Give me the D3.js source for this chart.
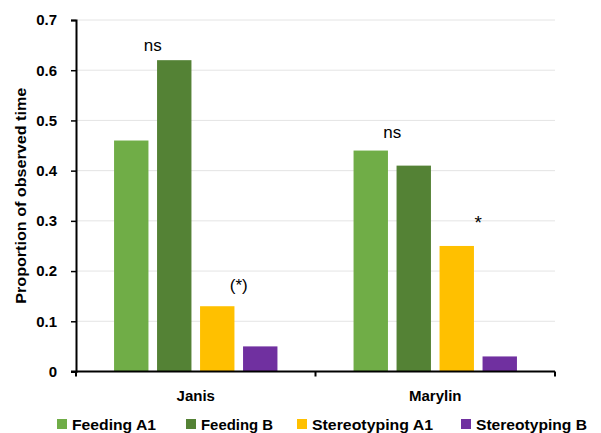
<!DOCTYPE html>
<html><head><meta charset="utf-8">
<script src="https://cdn.jsdelivr.net/npm/d3@7"></script>
<style>body{margin:0;background:#fff}svg{display:block}</style>
</head><body>
<svg id="c" width="601" height="433"></svg>
<script>
const categories = ["Janis", "Marylin"];
const seriesNames = ["Feeding A1", "Feeding B", "Stereotyping A1", "Stereotyping B"];
const seriesColors = ["#70AD47", "#548235", "#FFC000", "#7030A0"];
const janisValues = [0.46, 0.62, 0.13, 0.05];
const marylinValues = [0.44, 0.41, 0.25, 0.03];
const yTicks = [0, 0.1, 0.2, 0.3, 0.4, 0.5, 0.6, 0.7];
// significance labels: placed over a pair of bars, at a level in data units
const annotations = [
  {cat: "Janis", from: "Feeding A1", to: "Feeding B", level: 0.638, text: "ns"},
  {cat: "Marylin", from: "Feeding A1", to: "Feeding B", level: 0.466, text: "ns"},
  {cat: "Janis", from: "Stereotyping A1", to: "Stereotyping B", level: 0.16, text: "(*)"},
  {cat: "Marylin", from: "Stereotyping A1", to: "Stereotyping B", level: 0.284, text: "*"}
];
const valuesByCat = {Janis: janisValues, Marylin: marylinValues};

(function(){
const svg = d3.select("#c");
const font = "'Liberation Sans', Arial, sans-serif";
const pLeft = 76, pRight = 555, pTop = 20, pBottom = 371.5;

const x0 = d3.scaleBand().domain(categories).range([pLeft, pRight]).padding(0);
const x1 = d3.scaleBand().domain(seriesNames).range([0, x0.bandwidth()]).paddingInner(0.2).paddingOuter(0.885);
const y = d3.scaleLinear().domain([0, 0.7]).range([pBottom, pTop]);
const color = d3.scaleOrdinal().domain(seriesNames).range(seriesColors);

// gridlines
svg.append("g").selectAll("line").data(yTicks.filter(d => d > 0)).join("line")
  .attr("x1", pLeft).attr("x2", pRight)
  .attr("y1", d => y(d)).attr("y2", d => y(d))
  .attr("stroke", "#e4e4e4").attr("stroke-width", 1);

// bars
const groups = svg.append("g").selectAll("g").data(categories).join("g")
  .attr("transform", d => `translate(${x0(d)},0)`);
groups.selectAll("rect").data(c => seriesNames.map((s, i) => ({s, v: valuesByCat[c][i]}))).join("rect")
  .attr("x", d => x1(d.s)).attr("width", x1.bandwidth())
  .attr("y", d => y(d.v)).attr("height", d => y(0) - y(d.v))
  .attr("fill", d => color(d.s));

// y axis
const yAxis = svg.append("g").attr("transform", `translate(${pLeft},0)`)
  .call(d3.axisLeft(y).tickValues(yTicks).tickFormat(d => d === 0 ? "0" : d3.format(".1f")(d)).tickSize(5).tickPadding(14));
yAxis.select(".domain").attr("stroke", "#000").attr("stroke-width", 2);
yAxis.selectAll(".tick line").attr("stroke", "#000").attr("stroke-width", 1.5);
yAxis.selectAll("text").attr("font-family", font).attr("font-size", 15).attr("font-weight", "bold").attr("fill", "#000");

// x axis
const xAxis = svg.append("g").attr("transform", `translate(0,${pBottom})`);
xAxis.append("line").attr("x1", pLeft - 5).attr("x2", pRight).attr("y1", 0).attr("y2", 0)
  .attr("stroke", "#000").attr("stroke-width", 2);
xAxis.selectAll(".tk").data([pLeft, ...categories.map(c => x0(c) + x0.bandwidth())]).join("line")
  .attr("class", "tk")
  .attr("x1", d => d).attr("x2", d => d).attr("y1", 0).attr("y2", 5)
  .attr("stroke", "#000").attr("stroke-width", 2);
xAxis.selectAll(".cl").data(categories).join("text")
  .attr("class", "cl")
  .attr("x", d => x0(d) + x0.bandwidth() / 2).attr("y", 29)
  .attr("text-anchor", "middle").attr("font-family", font).attr("font-size", 15)
  .attr("font-weight", "bold").attr("fill", "#000").text(d => d);

// y label
svg.append("text").attr("transform", `translate(26,${(pTop + pBottom) / 2}) rotate(-90)`)
  .attr("text-anchor", "middle").attr("font-family", font).attr("font-size", 15)
  .attr("textLength", 216).attr("lengthAdjust", "spacingAndGlyphs")
  .attr("font-weight", "bold").attr("fill", "#000").text("Proportion of observed time");

// annotations
svg.append("g").selectAll("text").data(annotations).join("text")
  .attr("x", d => x0(d.cat) + (x1(d.from) + x1(d.to) + x1.bandwidth()) / 2)
  .attr("y", d => y(d.level))
  .attr("text-anchor", "middle").attr("font-family", font)
  .attr("font-size", d => d.text === "*" ? 19 : 17)
  .attr("fill", "#000").text(d => d.text);

// legend
const legendX = [57, 186, 297, 461];
const legendW = [84, 72, 121, 111];
const lg = svg.append("g").selectAll("g").data(seriesNames).join("g")
  .attr("transform", (d, i) => `translate(${legendX[i]},419)`);
lg.append("rect").attr("width", 10).attr("height", 10).attr("fill", d => color(d));
lg.append("text").attr("x", 15).attr("y", 11).attr("font-family", font).attr("font-size", 15.5)
  .attr("textLength", (d, i) => legendW[i]).attr("lengthAdjust", "spacingAndGlyphs")
  .attr("font-weight", "bold").attr("fill", "#000").text(d => d);
})();
</script>
</body></html>
